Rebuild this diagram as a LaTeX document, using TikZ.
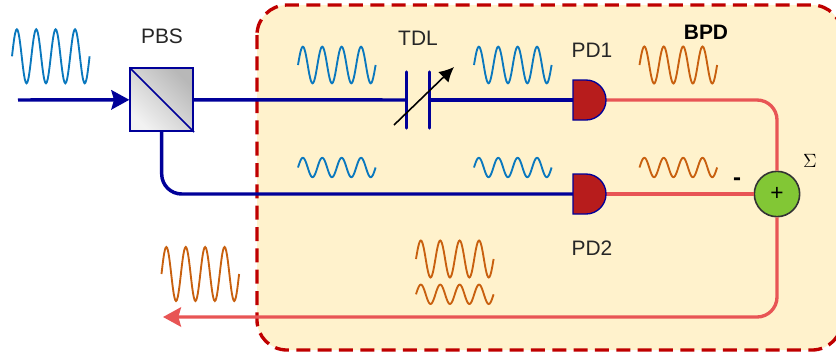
\documentclass[tikz,border=0pt]{standalone}
\usepackage{fontspec}
\setmainfont{Liberation Sans}
\usetikzlibrary{arrows.meta}
\definecolor{fibre}{HTML}{000099}
\definecolor{elec}{HTML}{E85555}
\definecolor{wblue}{HTML}{0A78BE}
\definecolor{worange}{HTML}{C8600F}
\definecolor{panel}{HTML}{FFF2CC}
\definecolor{pdred}{HTML}{B71C1C}
\definecolor{sumgreen}{HTML}{82C735}
\tikzset{%
	fibreline/.style = { fibre, line width=2.6pt },
	elecline/.style = { elec, line width=2.5pt },
	bigtip/.style = { -{Stealth[length=13.5pt, width=14.5pt, inset=2pt]} },
	tag/.style = { font=\fontsize{15.7}{18}\selectfont, text=black!85 },
	pd/.style = { rectangle, inner sep=0pt, outer sep=0pt, minimum width=24.75pt, minimum height=30pt },
	wave/.style = { line width=1.4pt, smooth }
}
% 正弦波: {x}{y}{振幅}{颜色}
\newcommand{\sigwave}[4]{\draw[wave, #4] plot[domain=0:77.6, samples=97] ({#1+\x}, {#2-#3*sin(\x*18.557)});}
% 探测器外形: {节点名}
\newcommand{\pdbody}[1]{\draw[draw=fibre, fill=pdred, line width=1pt] (#1.south west) -- (#1.north west) -- ++(9.75pt,0pt) arc[start angle=90, end angle=-90, radius=15pt] -- cycle;}

\begin{document}
\begin{tikzpicture}[x=0.75pt, y=-0.75pt]
	\useasboundingbox (0,0) rectangle (836,362);
	% 虚线框
	\begin{scope}
		\clip (0,0) rectangle (836,362);
		\draw[fill=panel, draw=red!75!black, line width=2.5pt, dash pattern=on 10.5pt off 5.5pt, rounded corners=22.5pt] (257,5) rectangle (842,350);
	\end{scope}
	% 器件
	\node[shade, left color=black!5, right color=black!28, shading angle=135, draw=fibre, line width=1.5pt, minimum size=47pt, inner sep=0pt] (pbs) at (161.7,99.8) {};
	\draw[fibre, line width=1.2pt] (pbs.north west) -- (pbs.south east);
	\node[pd] (pd1) at (589.5,100) {};
	\node[pd] (pd2) at (589.5,194) {};
	\node[circle, draw=black!80, fill=sumgreen, line width=1.2pt, minimum size=34pt, inner sep=0pt, font=\fontsize{17}{18}\selectfont] (sum) at (777,194) {+};
	\coordinate (in) at (18,100);
	\coordinate (out) at (163,317);
	\coordinate (tdla) at (406.7,100);
	\coordinate (tdlb) at (429.3,100);
	% 光路
	\draw[fibreline, bigtip] (in) -- (pbs.west);
	\draw[fibreline] (pbs.east) -- (tdla);
	\draw[fibreline] (tdlb) -- (pd1.west);
	\draw[fibreline, rounded corners=15pt] (pbs.south) |- (pd2.west);
	\draw[fibreline, line cap=round] (tdla |- 0,72) -- (tdla |- 0,128);
	\draw[fibreline, line cap=round] (tdlb |- 0,72) -- (tdlb |- 0,128);
	\draw[black, line width=1.2pt, -{Latex[length=11pt, width=11pt]}] (394,125) -- (454,67);
	% 电路
	\draw[elecline, rounded corners=15pt] (pd1.east) -| (sum.north);
	\draw[elecline] (pd2.east) -- (sum.west);
	\draw[elecline, rounded corners=15pt, bigtip] (sum.south) |- (out);
	\pdbody{pd1}
	\pdbody{pd2}
	% 波形
	\sigwave{12}{56.3}{27}{wblue}
	\sigwave{298}{65}{18.3}{wblue}
	\sigwave{474}{65}{18.3}{wblue}
	\sigwave{298}{167.5}{9.7}{wblue}
	\sigwave{474}{167.5}{9.7}{wblue}
	\sigwave{639.5}{65}{18.5}{worange}
	\sigwave{639.5}{167.5}{9.7}{worange}
	\sigwave{161.5}{274}{27}{worange}
	\sigwave{416}{259}{18.5}{worange}
	\sigwave{416}{294.3}{9.7}{worange}
	% 标签
	\node[tag] (pbslabel) at (162,36) {PBS};
	\node[tag] (tdllabel) at (418,38) {TDL};
	\node[tag] (pd1label) at (592,50) {PD1};
	\node[tag] (pd2label) at (592,248) {PD2};
	\node[tag, font=\bfseries\fontsize{15.7}{18}\selectfont, text=black] (bpdlabel) at (706,32) {BPD};
	\node[tag, font=\bfseries\fontsize{18}{18}\selectfont, text=black] (minus) at (737,182) {-};
	\node[font=\fontsize{14}{16}\selectfont] (sigma) at (810,161) {$\Sigma$};
\end{tikzpicture}
\end{document}
